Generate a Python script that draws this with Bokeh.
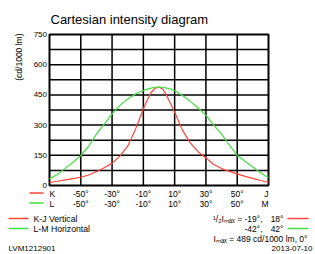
import math
from bokeh.plotting import figure
from bokeh.models import Range1d
from bokeh.core.properties import value
from bokeh.embed import file_html
from bokeh.resources import INLINE

# ---------------- data ----------------
angles = [-70, -65, -60, -55, -50, -45, -40, -35, -30, -25, -20, -15, -10, -7.5, -5, -2.5, 0,
          2.5, 5, 7.5, 10, 15, 20, 25, 30, 35, 40, 45, 50, 55, 60, 65, 70]
kj_vertical = [15, 21, 28, 34, 41, 52, 68, 88, 110, 146, 195, 280, 381, 425, 462, 483, 489,
               478, 445, 405, 364, 275, 212, 168, 137, 104, 84, 70, 58, 45, 35, 25, 16]
lm_horizontal = [33, 55, 85, 115, 149, 195, 255, 305, 356, 398, 430, 455, 472, 479, 484, 488, 489,
                 488, 484, 479, 472, 447, 418, 385, 348, 300, 255, 200, 150, 120, 92, 62, 38]

y_ticks = [0, 150, 300, 450, 600, 750]
y_grid = [75, 150, 225, 300, 375, 450, 525, 600, 675]
x_grid = [-50, -30, -10, 10, 30, 50]
x_tick_pos = [-70, -50, -30, -10, 10, 30, 50, 70]
kj_labels = ["K", "-50°", "-30°", "-10°", "10°", "30°", "50°", "J"]
lm_labels = ["L", "-50°", "-30°", "-10°", "10°", "30°", "50°", "M"]

title_text = "Cartesian intensity diagram"
y_label = "(cd/1000 lm)"
series_names = ["K-J Vertical", "L-M Horizontal"]
half_max_kj = (-19, 18)
half_max_lm = (-42, 42)
i_max = 489
i_max_angle = 0
code_text = "LVM1212901"
date_text = "2013-07-10"

RED = "#ff4438"
GREEN = "#40e040"
FONT = "Liberation Sans"

# ---------------- layout ----------------
W, H = 315, 254
FL, FR, FT, FB = 49, 268, 34, 185          # chart box in canvas pixels
X_MIN, X_MAX, Y_MIN, Y_MAX = -70, 70, 0, 750
SX = (FR - FL) / (X_MAX - X_MIN)           # px per degree
SY = (FB - FT) / (Y_MAX - Y_MIN)           # px per cd/1000 lm

p = figure(width=W, height=H,
           x_range=Range1d(X_MIN - FL / SX, X_MAX + (W - FR) / SX),
           y_range=Range1d(Y_MIN - (H - FB) / SY, Y_MAX + FT / SY),
           x_axis_type=None, y_axis_type=None, title=None,
           output_backend="svg", toolbar_location=None, min_border=0)
p.outline_line_color = None
p.background_fill_color = "white"
p.border_fill_color = "white"
p.xgrid.visible = False
p.ygrid.visible = False


def dx(px):
    return X_MIN + (px - FL) / SX


def dy(py):
    return Y_MIN + (FB - py) / SY


# grid
p.segment(x0=x_grid, y0=[Y_MIN] * len(x_grid), x1=x_grid, y1=[Y_MAX] * len(x_grid),
          line_color="black", line_width=1.5)
p.segment(x0=[X_MIN] * len(y_grid), y0=y_grid, x1=[X_MAX] * len(y_grid), y1=y_grid,
          line_color="black", line_width=1.5)
p.quad(left=[X_MIN], right=[X_MAX], bottom=[Y_MIN], top=[Y_MAX],
       fill_color=None, line_color="black", line_width=2)

# curves
p.line(angles, kj_vertical, line_color=RED, line_width=1.2)
p.line(angles, lm_horizontal, line_color=GREEN, line_width=1.2)


def txt(xs, ys, texts, size="8.5px", align="left", angle=0.0, baseline="middle"):
    p.text(x=xs, y=ys, text=texts, text_font=value(FONT), text_font_size=value(size),
           text_align=align, text_baseline=baseline, text_color="black", angle=angle)


def seg(x0, x1, y, color):
    p.segment(x0=[dx(x0)], y0=[dy(y)], x1=[dx(x1)], y1=[dy(y)],
              line_color=color, line_width=1.5)


# y tick labels
txt([dx(46.5)] * len(y_ticks), y_ticks, [str(t) for t in y_ticks], size="8px", align="right")

# x tick label rows
for labels, py in ((kj_labels, 193), (lm_labels, 203)):
    yy = dy(py)
    txt([x_tick_pos[0]], [yy], [labels[0]], align="left")
    txt(x_tick_pos[1:-1], [yy] * (len(x_tick_pos) - 2), labels[1:-1], align="center")
    txt([x_tick_pos[-1]], [yy], [labels[-1]], align="right")

# title and y label
txt([dx(50)], [dy(19.3)], [title_text], size="13px", baseline="alphabetic")
txt([dx(18)], [dy(33)], [y_label], size="8.5px", align="right", angle=math.pi / 2)

# row markers
seg(29, 43, 192.5, RED)
seg(29, 43, 202.5, GREEN)

# legend
seg(8, 28, 218, RED)
seg(8, 28, 228, GREEN)
txt([dx(33)], [dy(218)], [series_names[0]], size="8.7px")
txt([dx(33)], [dy(228)], [series_names[1]], size="8.7px")

# half max info
txt([dx(262)], [dy(218)], ["¹/₂Iₘₐₓ = %d°," % half_max_kj[0]], align="right")
txt([dx(283)], [dy(218)], ["%d°" % half_max_kj[1]], align="right")
txt([dx(262)], [dy(228)], ["%d°," % half_max_lm[0]], align="right")
txt([dx(283)], [dy(228)], ["%d°" % half_max_lm[1]], align="right")
seg(287, 308, 218, RED)
seg(287, 308, 228, GREEN)
txt([dx(307)], [dy(238)], ["Iₘₐₓ = %d cd/1000 lm, %d°" % (i_max, i_max_angle)], align="right")

# footer
txt([dx(8)], [dy(248)], [code_text], size="8px")
txt([dx(312)], [dy(248)], [date_text], size="8px", align="right")

open("out.html", "w").write(file_html(p, INLINE))
